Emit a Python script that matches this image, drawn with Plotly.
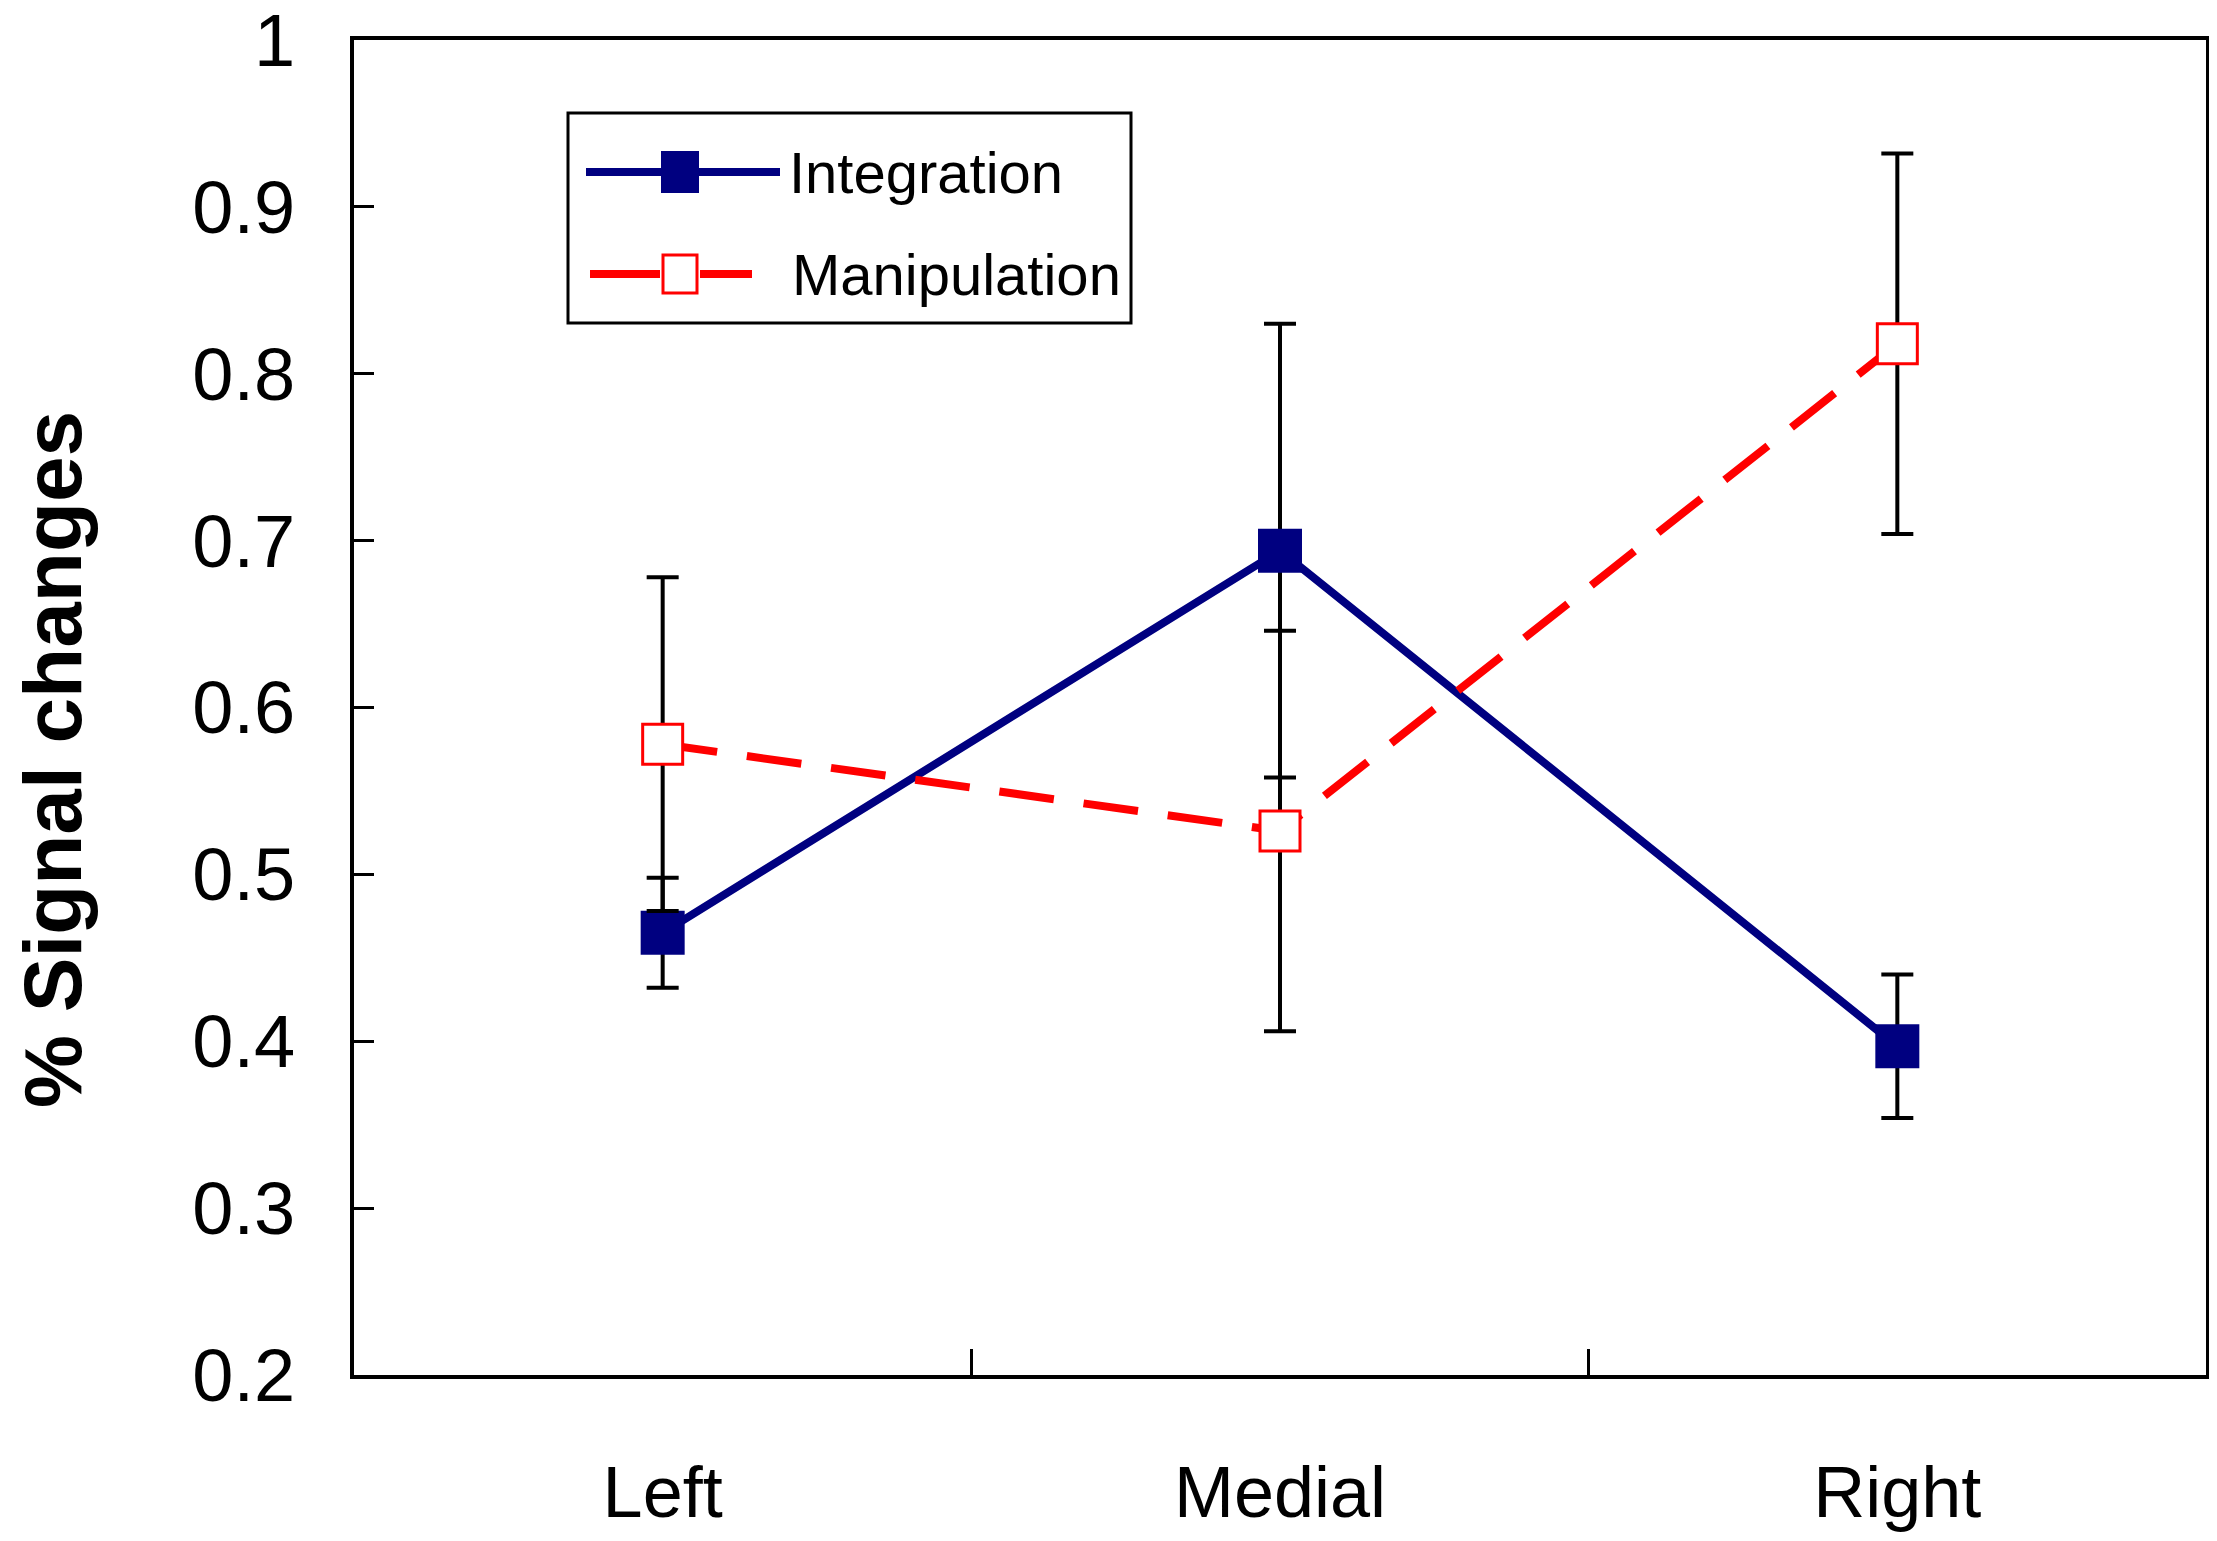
import plotly.graph_objects as go

# regions (x categories)
regions = ["Left", "Medial", "Right"]

# % signal changes, means and standard errors
integration = [0.465, 0.694, 0.397]
integration_err = [0.033, 0.136, 0.043]
manipulation = [0.578, 0.526, 0.818]
manipulation_err = [0.100, 0.120, 0.114]

# y axis ticks
y_ticks = [0.2, 0.3, 0.4, 0.5, 0.6, 0.7, 0.8, 0.9, 1.0]
y_ticktext = ["0.2", "0.3", "0.4", "0.5", "0.6", "0.7", "0.8", "0.9", "1"]

NAVY = "#000080"
RED = "#FF0000"
FONT = "Liberation Sans, Arial, sans-serif"

# the page body adds an 8px offset, margins account for it
W, H = 2217, 1541
L, R, T, B = 346, 19, 32, 174
PW, PH = W - L - R, H - T - B
OFF = 8


# legend is drawn by hand so the sample lines/markers are as long/big as the original
# px/py take positions in screenshot pixels
def px(x):
    return (x - OFF - L) / PW


def py(y):
    return (H - B - (y - OFF)) / PH


fig = go.Figure()

fig.add_trace(go.Scatter(
    x=regions, y=integration, name="Integration", mode="lines+markers",
    line=dict(color=NAVY, width=8),
    marker=dict(symbol="square", size=44, color=NAVY, line=dict(width=0)),
    error_y=dict(type="data", array=integration_err, color="black", thickness=4, width=16),
))

fig.add_trace(go.Scatter(
    x=regions, y=manipulation, name="Manipulation", mode="lines+markers",
    line=dict(color=RED, width=8, dash="55px,30px"),
    marker=dict(symbol="square", size=40, color="white", line=dict(color=RED, width=3)),
    error_y=dict(type="data", array=manipulation_err, color="black", thickness=4, width=16),
))

shapes = [
    # legend box
    dict(type="rect", xref="paper", yref="paper", x0=px(568), x1=px(1131), y0=py(323), y1=py(113),
         line=dict(color="black", width=3), fillcolor="white", layer="above"),
    # Integration sample
    dict(type="line", xref="paper", yref="paper", x0=px(586), x1=px(780), y0=py(172), y1=py(172),
         line=dict(color=NAVY, width=8), layer="above"),
    dict(type="rect", xref="paper", yref="paper", x0=px(661), x1=px(699), y0=py(193), y1=py(151),
         line=dict(width=0), fillcolor=NAVY, layer="above"),
    # Manipulation sample
    dict(type="line", xref="paper", yref="paper", x0=px(590), x1=px(660), y0=py(274), y1=py(274),
         line=dict(color=RED, width=8), layer="above"),
    dict(type="line", xref="paper", yref="paper", x0=px(700), x1=px(752), y0=py(274), y1=py(274),
         line=dict(color=RED, width=8), layer="above"),
    dict(type="rect", xref="paper", yref="paper", x0=px(663), x1=px(697), y0=py(293), y1=py(255),
         line=dict(color=RED, width=3), fillcolor="white", layer="above"),
]

annotations = [
    dict(text="Integration", x=px(787), y=py(172), xref="paper", yref="paper",
         xanchor="left", yanchor="middle", showarrow=False,
         font=dict(family=FONT, size=58, color="black")),
    dict(text="Manipulation", x=px(790), y=py(274), xref="paper", yref="paper",
         xanchor="left", yanchor="middle", showarrow=False,
         font=dict(family=FONT, size=58, color="black")),
    dict(text="% Signal changes", textangle=-90, showarrow=False,
         xref="paper", yref="paper", x=px(52), y=py(760),
         xanchor="center", yanchor="middle",
         font=dict(family=FONT, size=82, color="black", weight="bold")),
]

fig.update_layout(
    width=W, height=H,
    margin=dict(l=L, r=R, t=T, b=B, autoexpand=False),
    paper_bgcolor="white", plot_bgcolor="white",
    showlegend=False,
    shapes=shapes,
    annotations=annotations,
)

fig.update_xaxes(
    type="category", range=[-0.5, 2.5], automargin=False,
    showline=True, linecolor="black", linewidth=4, mirror=True,
    ticks="inside", ticklen=26, tickwidth=3, tickcolor="black", tickson="boundaries",
    showgrid=False, zeroline=False,
    tickfont=dict(family=FONT, size=72, color="black"),
    ticklabelstandoff=52,
)

fig.update_yaxes(
    range=[0.2, 1.0], tickvals=y_ticks, ticktext=y_ticktext, automargin=False,
    showline=True, linecolor="black", linewidth=4, mirror=True,
    ticks="inside", ticklen=20, tickwidth=3, tickcolor="black",
    showgrid=False, zeroline=False,
    tickfont=dict(family=FONT, size=74, color="black"),
    ticklabelstandoff=40, ticklabeloverflow="allow",
)

fig.write_html("out.html")
